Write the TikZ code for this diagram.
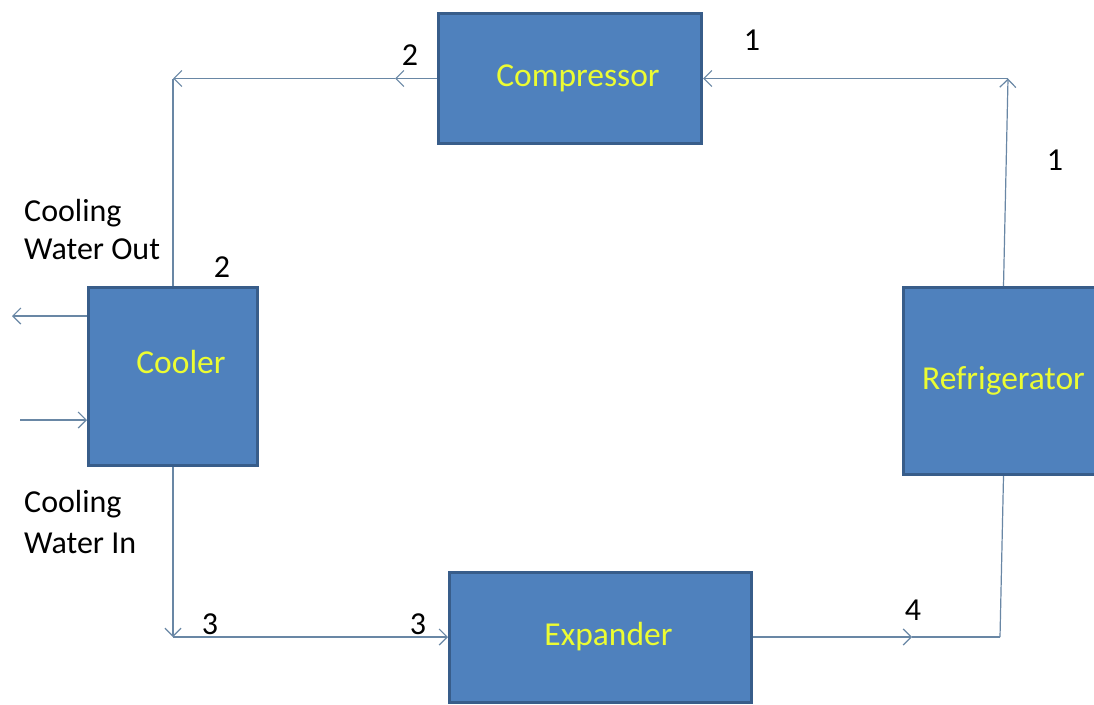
\documentclass[tikz,border=0pt]{standalone}
\usepackage{fontspec}
\setmainfont{Carlito}
\usetikzlibrary{arrows.meta}
\definecolor{boxfill}{RGB}{79,129,189}
\definecolor{boxline}{RGB}{56,93,138}
\definecolor{flowc}{RGB}{105,135,165}
\definecolor{txtyel}{RGB}{236,252,50}
\newcommand{\bx}[1]{\hspace*{16pt}#1}
\begin{document}
\begin{tikzpicture}[x=1pt,y=-1pt,
  unit/.style={rectangle, draw=boxline, line width=3pt, fill=boxfill, inner sep=0pt,
    text=txtyel, font=\fontsize{33.5}{38}\selectfont},
  flow/.style={draw=flowc, line width=1.2pt, -{Straight Barb[length=8pt,width=16pt,line width=1.2pt]}},
  plain/.style={draw=flowc, line width=1.2pt},
  lbl/.style={font=\fontsize{32}{38}\selectfont, text=black, inner sep=0pt}]
\useasboundingbox (0,0) rectangle (1094,704);
\clip (0,0) rectangle (1094,704);
\fill[white] (0,0) rectangle (1094,704);

\node[unit, minimum width=263pt, minimum height=130pt] (comp) at (570,78.5) {\bx{Compressor}};
\node[unit, minimum width=169pt, minimum height=178pt] (cool) at (173,376.5) {\bx{\raisebox{15pt}[\height][\depth]{Cooler}}};
\node[unit, minimum width=200pt, minimum height=187pt] (ref) at (1003.5,381) {Refrigerator};
\node[unit, minimum width=302pt, minimum height=130pt] (exp) at (600.5,637) {\bx{Expander}};

\coordinate (m2) at (395,78.5);
\coordinate (c2) at (173,78.5);
\coordinate (c3) at (173,637);
\coordinate (m4) at (912,637);
\coordinate (c4) at (1000,637);
\coordinate (c1) at (1008,78.5);
\coordinate (wout) at (12,316);
\coordinate (win) at (20,420);

\draw[flow] (comp.west) -- (m2);
\draw[flow] (m2) -- (c2);
\draw[plain] (c2) -- (cool.north);
\draw[flow] (cool.south) -- (c3);
\draw[flow] (c3) -- (exp.west);
\draw[flow] (exp.east) -- (m4);
\draw[plain] (m4) -- (c4);
\draw[plain] (c4) -- (ref.south);
\draw[flow] (ref.north) -- (c1);
\draw[flow] (c1) -- (comp.east);
\draw[flow] (cool.west |- wout) -- (wout);
\draw[flow] (win) -- (cool.west |- win);

\node[lbl] (n1a) at (752,40) {1};
\node[lbl] (n1b) at (1055,160) {1};
\node[lbl] (n2a) at (410,55) {2};
\node[lbl] (n2b) at (222,267) {2};
\node[lbl] (n3a) at (210,624) {3};
\node[lbl] (n3b) at (418,624) {3};
\node[lbl] (n4) at (913,610) {4};
\node[lbl, anchor=north west, align=left] (wo) at (24,199) {Cooling\\Water Out};
\node[lbl, anchor=north west, align=left] (wi) at (24,490) {Cooling\\[3pt]Water In};
\end{tikzpicture}
\end{document}
